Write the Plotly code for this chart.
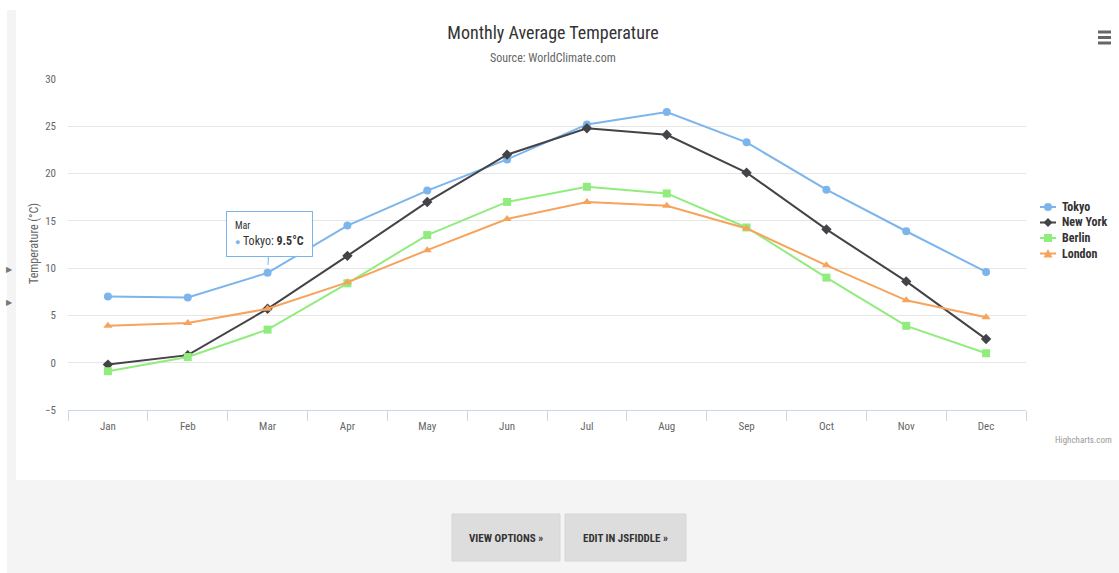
import plotly.graph_objects as go

W, H = 1119, 573

months = ["Jan", "Feb", "Mar", "Apr", "May", "Jun", "Jul", "Aug", "Sep", "Oct", "Nov", "Dec"]
tokyo = [7.0, 6.9, 9.5, 14.5, 18.2, 21.5, 25.2, 26.5, 23.3, 18.3, 13.9, 9.6]
new_york = [-0.2, 0.8, 5.7, 11.3, 17.0, 22.0, 24.8, 24.1, 20.1, 14.1, 8.6, 2.5]
berlin = [-0.9, 0.6, 3.5, 8.4, 13.5, 17.0, 18.6, 17.9, 14.3, 9.0, 3.9, 1.0]
london = [3.9, 4.2, 5.7, 8.5, 11.9, 15.2, 17.0, 16.6, 14.2, 10.3, 6.6, 4.8]
y_ticks = [-5, 0, 5, 10, 15, 20, 25, 30]

series = [
    ("Tokyo", tokyo, "#7cb5ec", "circle"),
    ("New York", new_york, "#434348", "diamond"),
    ("Berlin", berlin, "#90ed7d", "square"),
    ("London", london, "#f7a35c", "triangle-up"),
]

FONT = "Roboto Condensed, Liberation Sans Narrow, sans-serif"


def px(x):
    return x / W


def py(y):
    return 1 - y / H


x_idx = list(range(len(months)))

fig = go.Figure()
for name, vals, color, sym in series:
    fig.add_trace(go.Scatter(
        x=x_idx, y=vals, name=name, mode="lines+markers",
        line=dict(color=color, width=2),
        marker=dict(symbol=sym, size=8, color=color),
        showlegend=False,
    ))

shapes = [
    dict(type="rect", xref="paper", yref="paper", x0=px(7), x1=px(1119), y0=py(573), y1=py(10),
         fillcolor="#f4f4f4", line=dict(width=0), layer="below"),
    dict(type="rect", xref="paper", yref="paper", x0=px(16), x1=px(1119), y0=py(480), y1=py(10),
         fillcolor="#ffffff", line=dict(width=0), layer="below"),
    dict(type="rect", xref="paper", yref="paper", x0=px(452), x1=px(560), y0=py(561), y1=py(514),
         fillcolor="#dddddd", line=dict(color="#d6d6d6", width=1), layer="below"),
    dict(type="rect", xref="paper", yref="paper", x0=px(565), x1=px(686), y0=py(561), y1=py(514),
         fillcolor="#dddddd", line=dict(color="#d6d6d6", width=1), layer="below"),
]
for yy in (32, 37.5, 43):
    shapes.append(dict(type="line", xref="paper", yref="paper", x0=px(1098), x1=px(1111),
                       y0=py(yy), y1=py(yy), line=dict(color="#666666", width=3)))

annotations = [
    dict(text="Source: WorldClimate.com", xref="paper", yref="paper", x=px(553), y=py(58),
         showarrow=False, font=dict(family=FONT, size=12, color="#666666"), xanchor="center", yanchor="middle"),
    dict(text="Temperature (°C)", xref="paper", yref="paper", x=px(34), y=py(244), textangle=-90,
         showarrow=False, font=dict(family=FONT, size=12, color="#666666"), xanchor="center", yanchor="middle"),
    dict(text="Highcharts.com", xref="paper", yref="paper", x=px(1114), y=py(440),
         showarrow=False, font=dict(family=FONT, size=9, color="#999999"), xanchor="right", yanchor="middle"),
    dict(text="<b>VIEW OPTIONS »</b>", xref="paper", yref="paper", x=px(506), y=py(538),
         showarrow=False, font=dict(family=FONT, size=11, color="#333333"), xanchor="center", yanchor="middle"),
    dict(text="<b>EDIT IN JSFIDDLE »</b>", xref="paper", yref="paper", x=px(625.5), y=py(538),
         showarrow=False, font=dict(family=FONT, size=11, color="#333333"), xanchor="center", yanchor="middle"),
    dict(text="▶", xref="paper", yref="paper", x=px(9), y=py(270),
         showarrow=False, font=dict(size=8, color="#777777"), xanchor="center", yanchor="middle"),
    dict(text="▶", xref="paper", yref="paper", x=px(9), y=py(302),
         showarrow=False, font=dict(size=8, color="#777777"), xanchor="center", yanchor="middle"),
    dict(text=("<span style='font-size:10px'>" + months[2] + "</span><br>"
               "<span style='color:#7cb5ec;font-size:9px'>●</span> Tokyo: <b>" + f"{tokyo[2]}" + "°C</b>"),
         x=2, y=tokyo[2], xref="x", yref="y", showarrow=True, ax=2, ay=-39,
         arrowhead=0, arrowwidth=1, arrowcolor="#7cb5ec", standoff=8,
         align="left", bgcolor="rgba(255,255,255,0.95)", bordercolor="#7cb5ec", borderwidth=1,
         borderpad=8, font=dict(family=FONT, size=12, color="#333333")),
]

# manual legend (Highcharts-like compact layout)
LEG_X0, LEG_X1, LEG_MX, LEG_TX = 1040, 1056, 1048, 1060
leg_y = [207, 222.5, 238, 253.5]
for (name, _, color, sym), cy in zip(series, leg_y):
    shapes.append(dict(type="line", xref="paper", yref="paper", x0=px(LEG_X0), x1=px(LEG_X1),
                       y0=py(cy), y1=py(cy), line=dict(color=color, width=2)))
    r = 4
    if sym == "circle":
        shapes.append(dict(type="circle", xref="paper", yref="paper", x0=px(LEG_MX - r), x1=px(LEG_MX + r),
                           y0=py(cy + r), y1=py(cy - r), fillcolor=color, line=dict(width=0)))
    elif sym == "square":
        shapes.append(dict(type="rect", xref="paper", yref="paper", x0=px(LEG_MX - r), x1=px(LEG_MX + r),
                           y0=py(cy + r), y1=py(cy - r), fillcolor=color, line=dict(width=0)))
    elif sym == "diamond":
        pts = [(LEG_MX, cy - r - 0.5), (LEG_MX + r + 0.5, cy), (LEG_MX, cy + r + 0.5), (LEG_MX - r - 0.5, cy)]
        path = "M" + " L".join(f"{px(a):.5f},{py(b):.5f}" for a, b in pts) + " Z"
        shapes.append(dict(type="path", xref="paper", yref="paper", path=path, fillcolor=color, line=dict(width=0)))
    else:
        pts = [(LEG_MX, cy - r - 0.5), (LEG_MX + r + 0.5, cy + r), (LEG_MX - r - 0.5, cy + r)]
        path = "M" + " L".join(f"{px(a):.5f},{py(b):.5f}" for a, b in pts) + " Z"
        shapes.append(dict(type="path", xref="paper", yref="paper", path=path, fillcolor=color, line=dict(width=0)))
    annotations.append(dict(text="<b>" + name + "</b>", xref="paper", yref="paper", x=px(LEG_TX), y=py(cy),
                            xanchor="left", yanchor="middle", showarrow=False,
                            font=dict(family=FONT, size=12, color="#333333")))

fig.update_layout(
    width=W, height=H,
    margin=dict(l=0, r=0, t=0, b=0, pad=0, autoexpand=False),
    paper_bgcolor="#ffffff",
    plot_bgcolor="rgba(0,0,0,0)",
    font=dict(family=FONT, color="#666666"),
    title=dict(text="Monthly Average Temperature", x=px(553), y=py(33), xanchor="center", yanchor="middle",
               xref="paper", yref="paper", automargin=False,
               font=dict(family=FONT, size=18, color="#333333")),
    showlegend=False,
    xaxis=dict(
        domain=[px(68), px(1026)], range=[-0.5, 11.5], automargin=False,
        tickvals=x_idx, ticktext=months, ticks="", showgrid=False,
        showline=True, linecolor="#ccd6eb", linewidth=1,
        tickfont=dict(family=FONT, size=11, color="#666666"),
        ticklabelstandoff=6,
        minor=dict(tickvals=[i - 0.5 for i in range(len(months) + 1)], ticks="outside",
                   ticklen=10, tickcolor="#ccd6eb", tickwidth=1, showgrid=False),
        zeroline=False, fixedrange=True,
    ),
    yaxis=dict(
        domain=[py(410), py(79)], range=[-5, 30], automargin=False,
        tickvals=y_ticks, showgrid=True, gridcolor="#e6e6e6", gridwidth=1,
        zeroline=False, showline=False, ticks="",
        tickfont=dict(family=FONT, size=11, color="#666666"),
        ticklabelstandoff=11, fixedrange=True,
    ),
    shapes=shapes,
    annotations=annotations,
    hovermode=False,
)

post = (
    "var de=document.documentElement, b=document.body;"
    "de.style.margin='0'; de.style.padding='0'; de.style.overflow='hidden';"
    "b.style.margin='0'; b.style.padding='0'; b.style.overflow='hidden';"
)
fig.write_html("out.html", config={"displayModeBar": False}, post_script=post)
